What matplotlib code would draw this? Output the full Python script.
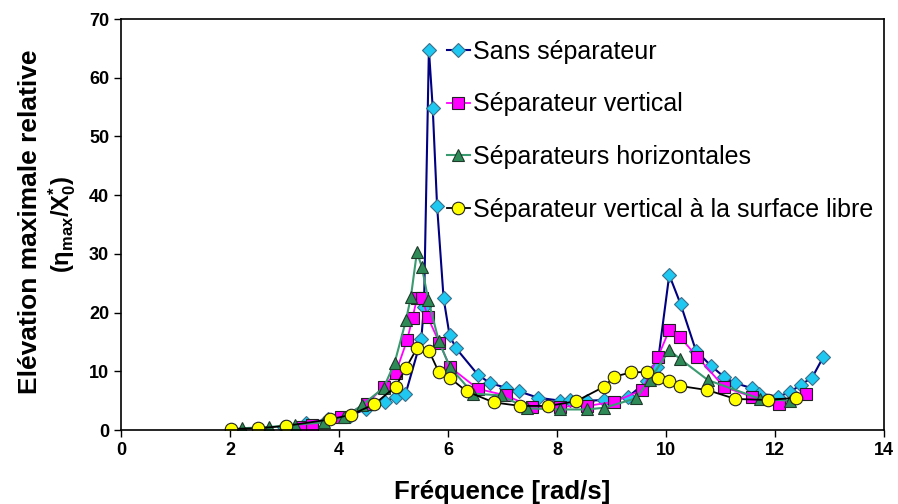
import numpy as np
import matplotlib
matplotlib.use("Agg")
import matplotlib.pyplot as plt
from matplotlib import font_manager

plt.rcParams['font.family'] = ['Liberation Sans', 'DejaVu Sans']
plt.rcParams['mathtext.fontset'] = 'custom'
plt.rcParams['mathtext.rm'] = 'Liberation Sans:bold'
plt.rcParams['mathtext.it'] = 'Liberation Sans:bold'

# narrow font for axis numbers if the system has one
names = {f.name for f in font_manager.fontManager.ttflist}
if 'Liberation Sans Narrow' in names:
    narrow = ['Liberation Sans Narrow']
    tick_fs, xlab_fs = 14.5, 21
else:
    narrow = ['Liberation Sans']
    tick_fs, xlab_fs = 13, 18.5

# data
x_sans = [3.0, 3.4, 3.8, 4.2, 4.5, 4.85, 5.04, 5.22, 5.51, 5.56, 5.65, 5.72, 5.80, 5.92, 6.03, 6.15,
          6.55, 6.77, 7.06, 7.30, 7.65, 8.06, 8.24, 8.56, 8.87, 9.30, 9.65, 9.84, 10.06, 10.27,
          10.55, 10.83, 11.07, 11.27, 11.58, 11.71, 12.05, 12.27, 12.47, 12.68, 12.89]
y_sans = [0.5, 1.2, 1.8, 2.4, 3.6, 4.8, 5.7, 6.1, 15.5, 21.0, 64.8, 54.9, 38.2, 22.4, 16.1, 13.9,
          9.4, 8.0, 7.2, 6.6, 5.5, 5.0, 5.1, 5.0, 5.1, 5.6, 8.3, 10.8, 26.4, 21.4,
          13.5, 10.9, 9.0, 8.0, 7.1, 6.2, 5.7, 6.4, 7.7, 8.9, 12.5]

x_vert = [3.3, 3.5, 4.03, 4.52, 4.82, 5.04, 5.25, 5.35, 5.43, 5.53, 5.63, 5.84, 6.04, 6.55, 7.06,
          7.55, 8.05, 8.55, 9.05, 9.56, 9.85, 10.06, 10.26, 10.57, 11.07, 11.57, 12.07, 12.57]
y_vert = [0.5, 0.9, 2.2, 4.5, 7.4, 9.7, 15.3, 19.1, 22.4, 22.4, 19.2, 14.9, 10.7, 7.0, 5.9,
          3.9, 4.0, 4.1, 4.8, 6.8, 12.4, 17.0, 15.8, 12.5, 7.3, 5.7, 4.4, 6.1]

x_horiz = [2.22, 2.71, 3.2, 3.72, 4.1, 4.42, 4.82, 5.02, 5.23, 5.32, 5.43, 5.52, 5.64, 5.83, 6.03,
           6.46, 6.97, 7.45, 8.06, 8.55, 8.87, 9.45, 9.7, 10.06, 10.26, 10.77, 11.73, 12.27]
y_horiz = [0.3, 0.5, 0.9, 1.3, 2.2, 4.2, 7.2, 11.4, 18.7, 22.7, 30.3, 27.8, 22.1, 15.2, 10.8,
           6.2, 5.9, 3.7, 3.5, 3.5, 3.8, 5.4, 8.5, 13.6, 12.1, 8.5, 5.3, 5.0]

x_surf = [2.02, 2.52, 3.03, 3.83, 4.22, 4.65, 5.04, 5.23, 5.43, 5.65, 5.83, 6.03, 6.34, 6.84, 7.33,
          7.84, 8.35, 8.87, 9.05, 9.36, 9.66, 9.86, 10.06, 10.26, 10.76, 11.27, 11.88, 12.38]
y_surf = [0.2, 0.3, 0.7, 1.8, 2.6, 4.4, 7.4, 10.6, 13.9, 13.5, 9.9, 8.9, 6.6, 4.7, 4.1,
          4.1, 4.9, 7.4, 9.1, 9.8, 9.9, 8.8, 8.3, 7.5, 6.8, 5.3, 5.1, 5.5]

labels = ['Sans séparateur', 'Séparateur vertical', 'Séparateurs horizontales',
          'Séparateur vertical à la surface libre']

fig = plt.figure(figsize=(8.98, 5.04), dpi=100)
ax = fig.add_axes([0.1347, 0.1468, 0.8497, 0.8155])

ax.plot(x_sans, y_sans, color='#000080', lw=1.5, marker='D', ms=7,
        mfc='#1EC8F0', mec='#3A6E8A', mew=0.8, label=labels[0])
ax.plot(x_vert, y_vert, color='#FF00FF', lw=1.3, marker='s', ms=8,
        mfc='#FF00FF', mec='#222222', mew=0.8, label=labels[1])
ax.plot(x_horiz, y_horiz, color='#3A9A70', lw=1.5, marker='^', ms=9,
        mfc='#2E8B57', mec='#1E3A2A', mew=0.8, label=labels[2])
ax.plot(x_surf, y_surf, color='black', lw=1.3, marker='o', ms=9,
        mfc='#FFFF00', mec='#222222', mew=0.8, label=labels[3])

ax.set_xlim(0, 14)
ax.set_ylim(0, 70)
ax.set_xticks(np.arange(0, 15, 2))
ax.set_yticks(np.arange(0, 71, 10))
ax.tick_params(direction='out', length=5, width=1)
for lab in ax.get_xticklabels() + ax.get_yticklabels():
    lab.set_family(narrow)
    lab.set_fontweight('bold')
    lab.set_fontsize(tick_fs)
for s in ax.spines.values():
    s.set_linewidth(1.2)

ax.set_xlabel('Fréquence [rad/s]', fontsize=xlab_fs, fontweight='bold',
              family=narrow, labelpad=15)

fig.text(0.033, 0.56, 'Elévation maximale relative', rotation=90, fontsize=19,
         fontweight='bold', ha='center', va='center')
fig.text(0.069, 0.555, r'($\eta_{\mathrm{max}}$/X$^{*}_{0}$)', rotation=90, fontsize=17,
         fontweight='bold', ha='center', va='center')

leg = ax.legend(loc='upper left', bbox_to_anchor=(0.427, 0.95), frameon=False,
                fontsize=18, labelspacing=1.15, handlelength=0.93, handletextpad=0.1,
                borderpad=0, borderaxespad=0)

fig.savefig('out.png', dpi=100)
